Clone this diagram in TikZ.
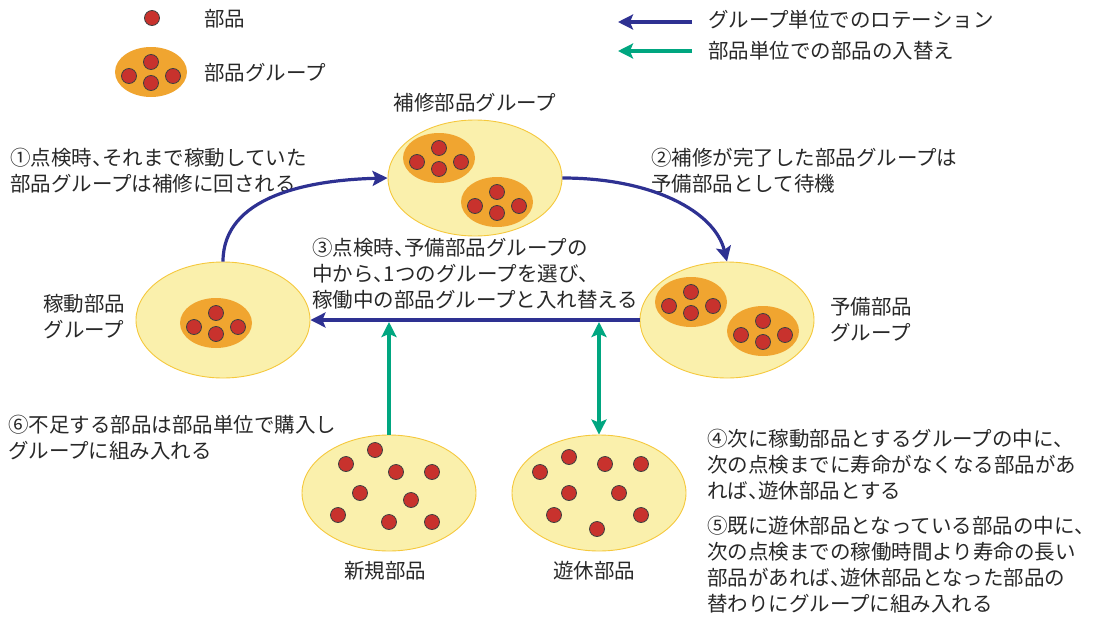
\documentclass[tikz,border=0pt]{standalone}
\usepackage{fontspec}
\newfontfamily\jp{Noto Sans CJK JP}
\usetikzlibrary{shapes.geometric,arrows.meta}
\definecolor{navy}{RGB}{46,49,146}
\definecolor{teal2}{RGB}{0,166,128}
\definecolor{lyel}{RGB}{250,240,172}
\definecolor{gold}{RGB}{245,200,60}
\definecolor{orng}{RGB}{240,165,48}
\definecolor{redd}{RGB}{200,50,45}
\definecolor{txt}{RGB}{40,40,40}
\newcommand\tn{\makebox[0.5em][l]{、}}
\tikzset{
 bigell/.style={ellipse, fill=lyel, draw=gold, line width=0.9pt, minimum width=174pt, minimum height=116pt, inner sep=0pt},
 grpell/.style={ellipse, fill=orng, minimum width=72pt, minimum height=50pt, inner sep=0pt},
 part/.style={circle, fill=redd, draw=black!75, line width=0.8pt, minimum size=15pt, inner sep=0pt},
 lbl/.style={font=\jp\fontsize{20.5}{26}\selectfont, text=txt, inner sep=0pt, align=left},
 rot/.style={draw=navy, line width=3.2pt, -{Stealth[length=15pt,width=15pt,inset=3pt]}},
 swp/.style={draw=teal2, line width=3.2pt, -{Stealth[length=15pt,width=15pt,inset=3pt]}},
 swpboth/.style={draw=teal2, line width=3.2pt, {Stealth[length=15pt,width=15pt,inset=3pt]}-{Stealth[length=15pt,width=15pt,inset=3pt]}},
}
\newcommand\pgroup[3]{%
 \node[grpell] (#1) at (#2,#3) {};
 \node[part] (#1-t) at (#2,#3-10) {};
 \node[part] (#1-l) at (#2-22,#3+4) {};
 \node[part] (#1-r) at (#2+22,#3+4) {};
 \node[part] (#1-b) at (#2,#3+11) {};
}
\begin{document}
\begin{tikzpicture}[x=1pt,y=-1pt]
\useasboundingbox (0,0) rectangle (1098,616);

% legend
\node[part] (legdot) at (152,18) {};
\node[lbl,anchor=west] (legdottxt) at (204,19) {部品};
\pgroup{leggrp}{151}{72}
\node[lbl,anchor=west] (leggrptxt) at (204,73) {部品グループ};
\coordinate (lb1) at (692,22);
\coordinate (lb2) at (618,22);
\draw[rot] (lb1) -- (lb2);
\node[lbl,anchor=west] (legrot) at (708,20) {グループ単位でのロテーション};
\coordinate (lg1) at (692,51);
\coordinate (lg2) at (618,51);
\draw[swp] (lg1) -- (lg2);
\node[lbl,anchor=west] (legswp) at (708,51) {部品単位での部品の入替え};

% big ellipses
\node[bigell] (hoshu) at (475,178) {};
\node[bigell] (yobi) at (727,320) {};
\node[bigell] (kado) at (223,320) {};
\node[bigell] (shinki) at (389,493) {};
\node[bigell] (yukyu) at (599,493) {};

% groups
\pgroup{hg1}{439}{158}
\pgroup{hg2}{497}{202}
\pgroup{yg1}{691}{302}
\pgroup{yg2}{763}{331}
\pgroup{kg1}{216}{323}

% loose parts
\foreach \n/\x/\y in {1/375/450,2/346/464,3/396/472,4/432/472,5/360/493,6/411/500,7/338/515,8/389/522,9/432/522}
  \node[part] (sp\n) at (\x,\y) {};
\foreach \n/\x/\y in {1/569/457,2/540/472,3/605/464,4/641/464,5/569/493,6/619/493,7/554/515,8/597/529,9/641/515}
  \node[part] (yp\n) at (\x,\y) {};

% labels
\node[lbl,anchor=center] (hoshutxt) at (475,103) {補修部品グループ};
\node[lbl,anchor=north,align=center] (kadotxt) at (84,294) {稼動部品\\グループ};
\node[lbl,anchor=north west] (yobitxt) at (830,297) {予備部品\\グループ};
\node[lbl,anchor=center] (shinkitxt) at (385,571) {新規部品};
\node[lbl,anchor=center] (yukyutxt) at (594,571) {遊休部品};

\node[lbl,anchor=north west] (s1) at (10,148) {①点検時\tn それまで稼動していた\\部品グループは補修に回される};
\node[lbl,anchor=north west] (s2) at (651,148) {②補修が完了した部品グループは\\予備部品として待機};
\node[lbl,anchor=north west] (s3) at (312,238) {③点検時\tn 予備部品グループの\\中から\tn 1つのグループを選び\tn\\稼働中の部品グループと入れ替える};
\node[lbl,anchor=north west] (s6) at (8,415) {⑥不足する部品は部品単位で購入し\\グループに組み入れる};
\node[lbl,anchor=north west] (s4) at (707,429) {④次に稼動部品とするグループの中に\tn\\次の点検までに寿命がなくなる部品があ\\れば\tn 遊休部品とする};
\node[lbl,anchor=north west] (s5) at (707,516) {⑤既に遊休部品となっている部品の中に\tn\\次の点検までの稼働時間より寿命の長い\\部品があれば\tn 遊休部品となった部品の\\替わりにグループに組み入れる};

% connectors
\draw[rot] (kado.north) .. controls ++(0,-65) and ++(-80,2) .. (hoshu.west);
\draw[rot] (hoshu.east) .. controls ++(90,0) and ++(-12,-50) .. (yobi.north);
\draw[rot] (yobi.west) -- (kado.east);
\coordinate (g1) at (389,322);
\coordinate (g2) at (599,322);
\draw[swp] (shinki.north) -- (g1);
\draw[swpboth] (yukyu.north) -- (g2);
\end{tikzpicture}
\end{document}
